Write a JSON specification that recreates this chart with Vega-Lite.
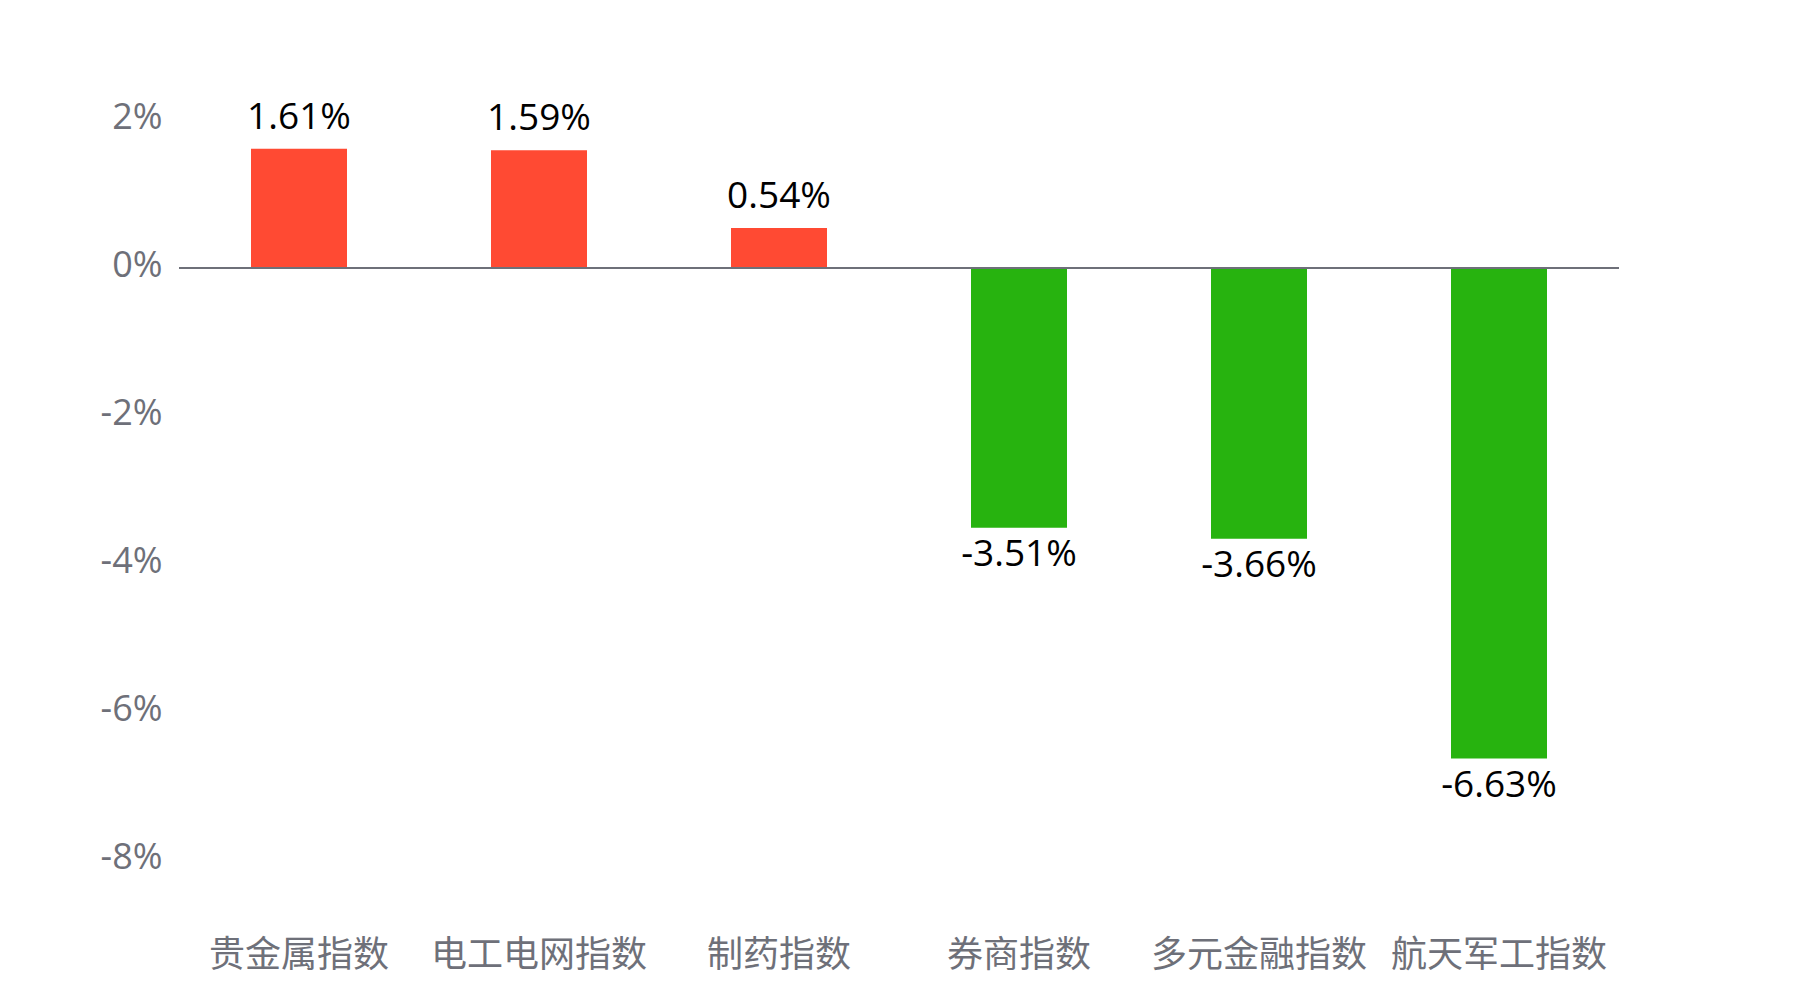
{
  "$schema": "https://vega.github.io/schema/vega-lite/v6.json",
  "width": 1440,
  "height": 740,
  "autosize": {"type": "none"},
  "padding": {"left": 179, "top": 120, "right": 181, "bottom": 140},
  "background": "#ffffff",
  "config": {
    "view": {"stroke": null},
    "locale": {
      "number": {"decimal": ".", "thousands": ",", "grouping": [3], "currency": ["$", ""], "minus": "-"}
    }
  },
  "data": {
    "values": [
      {"name": "贵金属指数", "value": 0.0161},
      {"name": "电工电网指数", "value": 0.0159},
      {"name": "制药指数", "value": 0.0054},
      {"name": "券商指数", "value": -0.0351},
      {"name": "多元金融指数", "value": -0.0366},
      {"name": "航天军工指数", "value": -0.0663}
    ]
  },
  "encoding": {
    "x": {
      "field": "name",
      "type": "nominal",
      "sort": null,
      "scale": {"paddingInner": 0.6, "paddingOuter": 0.3},
      "axis": {
        "title": null,
        "domain": false,
        "ticks": false,
        "labelAngle": 0,
        "labelLimit": 0,
        "labelFont": "Noto Sans CJK SC",
        "labelFontSize": 36,
        "labelColor": "#6e7079",
        "labelPadding": 78
      }
    },
    "y": {
      "field": "value",
      "type": "quantitative",
      "scale": {"domain": [-0.08, 0.02], "nice": false},
      "axis": {
        "title": null,
        "domain": false,
        "ticks": false,
        "grid": false,
        "values": [-0.08, -0.06, -0.04, -0.02, 0, 0.02],
        "format": ".0%",
        "labelFont": "Open Sans",
        "labelFontSize": 36,
        "labelColor": "#6e7079",
        "labelPadding": 17,
        "labelOffset": -3
      }
    }
  },
  "layer": [
    {
      "mark": {"type": "bar"},
      "encoding": {
        "color": {
          "condition": {"test": "datum.value >= 0", "value": "#ff4a33"},
          "value": "#27b30f"
        }
      }
    },
    {
      "mark": {"type": "rule", "color": "#6e7079", "strokeWidth": 2},
      "encoding": {"x": null, "y": {"datum": 0}}
    },
    {
      "transform": [{"filter": "datum.value >= 0"}],
      "mark": {"type": "text", "font": "Open Sans", "fontSize": 37, "color": "#000000", "baseline": "alphabetic", "dy": -20},
      "encoding": {"text": {"field": "value", "format": ".2%"}}
    },
    {
      "transform": [{"filter": "datum.value < 0"}],
      "mark": {"type": "text", "font": "Open Sans", "fontSize": 37, "color": "#000000", "baseline": "alphabetic", "dy": 38},
      "encoding": {"text": {"field": "value", "format": ".2%"}}
    }
  ]
}
